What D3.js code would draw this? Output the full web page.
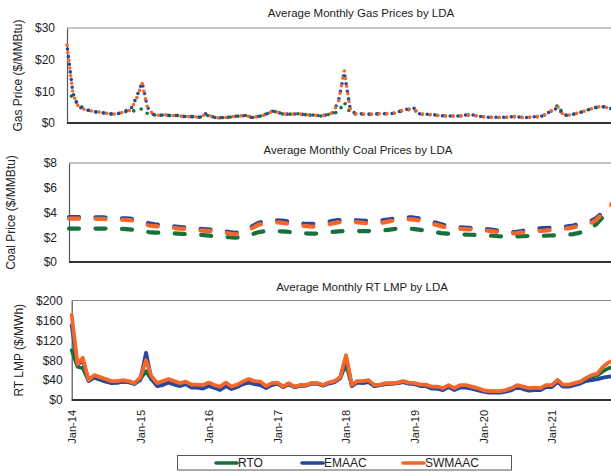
<!DOCTYPE html>
<html>
<head>
<meta charset="utf-8">
<script src="https://cdn.jsdelivr.net/npm/d3@7"></script>
<style>
  html, body { margin: 0; padding: 0; background: #fff; }
  svg { display: block; font-family: "Liberation Sans", Arial, sans-serif; }
</style>
</head>
<body>
<svg id="chart" width="611" height="472"></svg>
<script>
// ---------- DATA ----------
const seriesNames = ["RTO", "EMAAC", "SWMAAC"];
const seriesColors = ["#18703a", "#27479b", "#f4662a"];
const yearTickLabels = ["Jan-14","Jan-15","Jan-16","Jan-17","Jan-18","Jan-19","Jan-20","Jan-21"];

// Average Monthly Gas Prices ($/MMBtu), Jan-14 .. Dec-21
const gasRTO = [
  10.0, 8.0, 5.8, 4.6, 3.9, 3.5, 3.3, 3.0, 2.8, 3.0, 4.0, 3.6,
  4.0, 4.5, 3.0, 2.6, 2.4, 2.6, 2.3, 2.4, 2.1, 2.0, 2.0, 1.8,
  2.6, 2.0, 1.6, 1.7, 1.8, 2.1, 2.2, 2.4, 1.7, 2.0, 2.4, 3.2,
  3.6, 2.9, 2.8, 2.8, 2.9, 2.7, 2.5, 2.5, 2.2, 2.6, 3.0, 3.5,
  6.5, 3.3, 2.8, 2.8, 2.7, 2.8, 2.9, 2.9, 2.9, 3.2, 3.8, 4.2,
  4.3, 2.8, 2.7, 2.6, 2.4, 2.3, 2.2, 2.2, 2.2, 2.4, 2.6, 2.2,
  2.0, 1.8, 1.8, 1.7, 1.8, 2.0, 2.0, 1.7, 1.8, 2.0, 2.0, 2.8,
  4.0, 5.7, 2.5, 2.5, 2.9, 3.4, 4.0, 4.6, 5.1, 5.1, 4.6, 4.6
];
const gasEMAAC = [
  24.6, 9.5, 5.3, 4.3, 3.9, 3.5, 3.3, 3.0, 2.8, 3.0, 3.5, 4.0,
  8.0, 12.8, 4.9, 2.7, 2.4, 2.6, 2.3, 2.4, 2.1, 2.0, 2.0, 1.8,
  2.9, 2.1, 1.6, 1.7, 1.8, 2.1, 2.2, 2.4, 1.7, 2.0, 2.4, 3.4,
  3.9, 3.0, 2.8, 2.8, 2.9, 2.7, 2.5, 2.5, 2.2, 2.6, 3.2, 6.8,
  16.0, 4.6, 2.9, 2.9, 2.8, 2.8, 2.9, 2.9, 2.9, 3.2, 4.0, 4.4,
  4.8, 2.9, 2.8, 2.7, 2.5, 2.3, 2.2, 2.2, 2.2, 2.5, 2.7, 2.2,
  2.0, 1.8, 1.8, 1.8, 1.8, 2.0, 2.0, 1.6, 1.8, 2.0, 2.0, 2.9,
  4.0, 4.8, 2.4, 2.5, 2.9, 3.4, 4.0, 4.6, 5.1, 5.1, 4.6, 4.6
];
const gasSWMAAC = [
  24.6, 9.2, 5.2, 4.3, 3.9, 3.5, 3.4, 3.0, 2.8, 3.0, 3.6, 4.0,
  7.5, 12.5, 4.8, 2.7, 2.4, 2.6, 2.3, 2.4, 2.1, 2.0, 2.0, 1.8,
  2.8, 2.1, 1.6, 1.7, 1.8, 2.1, 2.2, 2.4, 1.7, 2.0, 2.4, 3.3,
  3.8, 3.0, 2.8, 2.8, 2.9, 2.7, 2.5, 2.5, 2.2, 2.7, 3.2, 6.5,
  16.5, 4.5, 2.9, 2.9, 2.8, 2.8, 2.9, 2.9, 2.9, 3.2, 4.0, 4.3,
  4.6, 2.9, 2.8, 2.7, 2.5, 2.3, 2.2, 2.2, 2.2, 2.5, 2.7, 2.2,
  2.0, 1.8, 1.8, 1.8, 1.8, 2.0, 2.0, 1.7, 1.8, 2.0, 2.0, 2.9,
  4.0, 5.0, 2.5, 2.5, 2.9, 3.4, 4.0, 4.6, 5.1, 5.1, 4.6, 4.6
];

// Average Monthly Coal Prices ($/MMBtu)
const coalRTO = [
  2.70, 2.70, 2.70, 2.70, 2.70, 2.70, 2.70, 2.70, 2.70, 2.68, 2.66, 2.62,
  2.55, 2.48, 2.42, 2.38, 2.36, 2.34, 2.32, 2.30, 2.27, 2.24, 2.22, 2.20,
  2.15, 2.10, 2.08, 2.05, 2.00, 1.97, 2.00, 2.10, 2.25, 2.40, 2.48, 2.50,
  2.50, 2.48, 2.45, 2.40, 2.35, 2.32, 2.30, 2.30, 2.32, 2.38, 2.44, 2.48,
  2.50, 2.50, 2.50, 2.50, 2.50, 2.50, 2.52, 2.56, 2.62, 2.68, 2.72, 2.72,
  2.68, 2.62, 2.55, 2.48, 2.40, 2.34, 2.30, 2.27, 2.24, 2.22, 2.20, 2.18,
  2.16, 2.14, 2.12, 2.08, 2.05, 2.04, 2.06, 2.08, 2.10, 2.10, 2.10, 2.12,
  2.14, 2.16, 2.18, 2.20, 2.25, 2.35, 2.50, 2.72, 3.05, 3.55, 4.15, 4.70
];
const coalEMAAC = [
  3.62, 3.62, 3.62, 3.62, 3.62, 3.61, 3.60, 3.58, 3.56, 3.54, 3.52, 3.48,
  3.38, 3.26, 3.12, 3.05, 3.00, 2.95, 2.90, 2.85, 2.80, 2.76, 2.72, 2.68,
  2.64, 2.60, 2.56, 2.50, 2.42, 2.36, 2.40, 2.60, 2.90, 3.15, 3.30, 3.35,
  3.38, 3.35, 3.30, 3.22, 3.15, 3.10, 3.08, 3.08, 3.12, 3.22, 3.32, 3.38,
  3.40, 3.40, 3.38, 3.35, 3.32, 3.30, 3.32, 3.38, 3.45, 3.52, 3.58, 3.62,
  3.60, 3.52, 3.42, 3.30, 3.18, 3.05, 2.92, 2.85, 2.80, 2.78, 2.75, 2.72,
  2.70, 2.66, 2.60, 2.52, 2.45, 2.40, 2.42, 2.50, 2.60, 2.68, 2.72, 2.74,
  2.76, 2.80, 2.84, 2.88, 2.95, 3.05, 3.18, 3.30, 3.55, 3.95, 4.40, 4.80
];
const coalSWMAAC = [
  3.50, 3.50, 3.50, 3.50, 3.50, 3.49, 3.48, 3.46, 3.44, 3.42, 3.40, 3.36,
  3.24, 3.10, 2.95, 2.90, 2.86, 2.82, 2.77, 2.72, 2.68, 2.64, 2.60, 2.56,
  2.52, 2.48, 2.44, 2.38, 2.30, 2.24, 2.28, 2.46, 2.75, 3.00, 3.12, 3.18,
  3.22, 3.18, 3.12, 3.05, 2.98, 2.92, 2.88, 2.86, 2.90, 3.02, 3.12, 3.20,
  3.26, 3.25, 3.22, 3.18, 3.14, 3.10, 3.12, 3.20, 3.30, 3.38, 3.44, 3.46,
  3.44, 3.36, 3.26, 3.14, 3.02, 2.90, 2.78, 2.72, 2.68, 2.66, 2.63, 2.60,
  2.58, 2.54, 2.48, 2.40, 2.34, 2.30, 2.32, 2.38, 2.45, 2.50, 2.52, 2.54,
  2.58, 2.62, 2.68, 2.72, 2.80, 2.90, 3.00, 3.12, 3.40, 3.85, 4.35, 4.75
];

// Average Monthly RT LMP ($/MWh)
const lmpRTO = [
  100, 67, 64, 39, 45, 41, 37, 35, 35, 37, 36, 32,
  42, 58, 42, 31, 35, 38, 35, 31, 34, 28, 28, 27,
  31, 27, 24, 31, 25, 28, 34, 38, 34, 33, 26, 32,
  33, 26, 32, 26, 29, 29, 33, 33, 29, 34, 37, 44,
  72, 29, 36, 36, 37, 29, 30, 33, 33, 34, 37, 34,
  33, 30, 30, 26, 26, 23, 28, 23, 28, 28, 26, 23,
  19, 17, 17, 17, 19, 23, 28, 25, 22, 23, 23, 28,
  28, 40, 30, 30, 32, 35, 42, 47, 50, 58, 64, 68
];
const lmpEMAAC = [
  150, 70, 80, 38, 46, 42, 38, 34, 35, 37, 36, 33,
  40, 95, 42, 28, 30, 35, 31, 28, 32, 25, 25, 23,
  28, 24, 20, 28, 22, 26, 32, 35, 32, 30, 24, 30,
  33, 26, 32, 26, 29, 29, 33, 33, 29, 33, 36, 44,
  86, 28, 35, 34, 36, 28, 30, 32, 33, 34, 36, 33,
  32, 28, 28, 23, 23, 20, 26, 20, 25, 25, 23, 20,
  17, 15, 15, 15, 17, 20, 26, 22, 19, 20, 20, 26,
  26, 36, 27, 27, 30, 33, 38, 40, 42, 45, 47, 48
];
const lmpSWMAAC = [
  171, 72, 85, 40, 50, 46, 42, 38, 38, 40, 38, 34,
  45, 80, 48, 34, 38, 42, 38, 34, 37, 31, 31, 30,
  35, 30, 27, 35, 27, 31, 37, 42, 38, 37, 28, 34,
  35, 27, 34, 27, 30, 30, 34, 34, 30, 35, 38, 46,
  90, 30, 38, 38, 40, 30, 31, 34, 34, 35, 38, 35,
  34, 31, 31, 27, 27, 24, 30, 24, 30, 30, 27, 24,
  20, 18, 18, 18, 20, 24, 30, 27, 24, 25, 24, 30,
  30, 40, 31, 31, 34, 37, 44, 50, 53, 67, 76, 80
];

const gasTicks = [0, 10, 20, 30];
const coalTicks = [0, 2, 4, 6, 8];
const lmpTicks = [0, 40, 80, 120, 160, 200];

// ---------- CHART ----------
const months = d3.range(96).map(i => new Date(2014, i, 1));
const yearTicks = d3.range(8).map(i => new Date(2014 + i, 0, 1));

const svg = d3.select("#chart");

function panel(cfg) {
  const x = d3.scaleTime()
    .domain([months[0], months[95]])
    .range([cfg.left, cfg.left + cfg.perMonth * 95]);
  const y = d3.scaleLinear()
    .domain([0, cfg.ticks[cfg.ticks.length - 1]])
    .range([cfg.bottom, cfg.top]);

  const g = svg.append("g");

  g.append("text")
    .attr("x", cfg.titleX).attr("y", cfg.titleY)
    .attr("text-anchor", "middle")
    .attr("font-size", 11.5).attr("fill", "#222")
    .text(cfg.title);

  g.append("text")
    .attr("transform", `translate(${cfg.labelX},${(cfg.top + cfg.bottom) / 2}) rotate(-90)`)
    .attr("text-anchor", "middle")
    .attr("dy", "0.35em")
    .attr("font-size", 12).attr("fill", "#222")
    .text(cfg.yLabel);

  g.append("line")
    .attr("x1", x.range()[0]).attr("x2", 611)
    .attr("y1", cfg.top).attr("y2", cfg.top)
    .attr("stroke", "#8a8a8a").attr("stroke-width", 1.2);

  const ya = g.append("g")
    .attr("transform", `translate(${x.range()[0]},0)`)
    .call(d3.axisLeft(y).tickValues(cfg.ticks).tickSize(0).tickSizeOuter(0)
      .tickPadding(cfg.tickPad).tickFormat(d => "$" + d));
  ya.select(".domain").attr("stroke", "#555").attr("stroke-width", 1.2);
  ya.selectAll("text").attr("font-size", 12).attr("fill", "#222")
    .attr("font-family", "Liberation Sans, Arial, sans-serif");

  const line = d3.line()
    .x((d, i) => x(months[i]))
    .y(d => y(d));
  cfg.series.forEach((vals, k) => {
    g.append("path")
      .datum(vals)
      .attr("d", line)
      .attr("fill", "none")
      .attr("stroke", seriesColors[k])
      .attr("stroke-width", cfg.strokeWidth)
      .attr("stroke-linecap", "round")
      .attr("stroke-linejoin", "round")
      .attr("stroke-dasharray", cfg.dash || null)
      .attr("stroke-dashoffset", cfg.dashOffsets ? cfg.dashOffsets[k] : null);
  });

  g.append("line")
    .attr("x1", x.range()[0]).attr("x2", 611)
    .attr("y1", cfg.bottom).attr("y2", cfg.bottom)
    .attr("stroke", "#333").attr("stroke-width", 1.8);

  return x;
}

panel({
  title: "Average Monthly Gas Prices by LDA", titleX: 361, titleY: 17,
  yLabel: "Gas Price ($/MMBtu)", labelX: 18,
  left: 67, perMonth: 5.775, top: 28, bottom: 123,
  ticks: gasTicks, tickPad: 12,
  series: [gasRTO, gasEMAAC, gasSWMAAC],
  strokeWidth: 3.6, dash: "0,7.7", dashOffsets: [1.2, 3.8, 0]
});

panel({
  title: "Average Monthly Coal Prices by LDA", titleX: 358, titleY: 154,
  yLabel: "Coal Price ($/MMBtu)", labelX: 11,
  left: 69, perMonth: 5.73, top: 163, bottom: 262,
  ticks: coalTicks, tickPad: 12,
  series: [coalRTO, coalEMAAC, coalSWMAAC],
  strokeWidth: 4.2, dash: "10,16.5", dashOffsets: [0, 0, 0]
});

const xL = panel({
  title: "Average Monthly RT LMP by LDA", titleX: 362, titleY: 291,
  yLabel: "RT LMP ($/MWh)", labelX: 19,
  left: 71.7, perMonth: 5.714, top: 300.5, bottom: 400,
  ticks: lmpTicks, tickPad: 9,
  series: [lmpRTO, lmpEMAAC, lmpSWMAAC],
  strokeWidth: 3.8
});

const xa = svg.append("g")
  .attr("transform", "translate(0,400)")
  .call(d3.axisBottom(xL).tickValues(yearTicks).tickSize(0)
    .tickFormat((d, i) => yearTickLabels[i]));
xa.select(".domain").remove();
xa.selectAll("text")
  .attr("transform", "rotate(-90)")
  .attr("text-anchor", "end")
  .attr("x", -10).attr("y", 0).attr("dy", "0.36em")
  .attr("font-size", 11).attr("fill", "#222")
  .attr("font-family", "Liberation Sans, Arial, sans-serif");

const lg = svg.append("g");
lg.append("rect")
  .attr("x", 177.5).attr("y", 455.5).attr("width", 334).attr("height", 14.5)
  .attr("fill", "#fff").attr("stroke", "#555").attr("stroke-width", 1);
const legendX = [216, 302, 403];
seriesNames.forEach((name, k) => {
  lg.append("line")
    .attr("x1", legendX[k]).attr("x2", legendX[k] + 21)
    .attr("y1", 463).attr("y2", 463)
    .attr("stroke", seriesColors[k]).attr("stroke-width", 3.6)
    .attr("stroke-linecap", "round");
  lg.append("text")
    .attr("x", legendX[k] + 22).attr("y", 463).attr("dy", "0.36em")
    .attr("font-size", 12).attr("fill", "#222")
    .text(name);
});
</script>
</body>
</html>
